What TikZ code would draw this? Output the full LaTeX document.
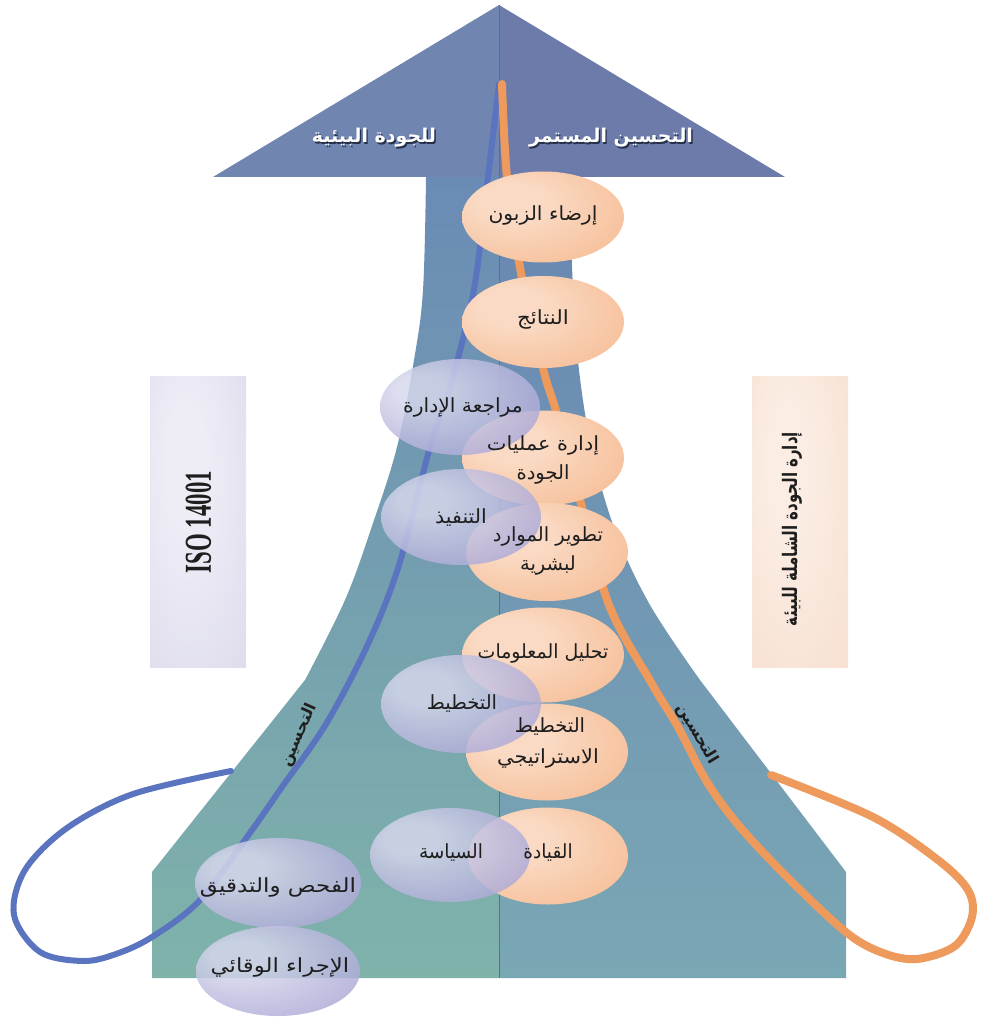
\documentclass[tikz,border=0pt]{standalone}
\usepackage{fontspec}
\setmainfont{Liberation Serif}
\newfontfamily\arabicfont[Script=Arabic]{DejaVu Sans}
\TeXXeTstate=1
\usetikzlibrary{shapes.geometric}
\definecolor{ocA}{HTML}{FADAC4}
\definecolor{ocB}{HTML}{F6BC94}
\definecolor{ocC}{HTML}{EF965A}
\definecolor{pcA}{HTML}{D6D8EC}
\definecolor{pcB}{HTML}{A6A1D3}
\definecolor{pcC}{HTML}{7A70B9}
\definecolor{isoA}{HTML}{EEEDF6}
\definecolor{isoB}{HTML}{D4D2E7}
\definecolor{tqA}{HTML}{FBEDE4}
\definecolor{tqB}{HTML}{F5D8C6}
\definecolor{headL}{HTML}{7085B0}
\definecolor{headR}{HTML}{6D7BAA}
\definecolor{stemLT}{HTML}{6A8BB5}
\definecolor{stemLB}{HTML}{7FB3AA}
\definecolor{stemRT}{HTML}{6886B2}
\definecolor{stemRB}{HTML}{7AA7B4}
\definecolor{midline}{HTML}{5B6F92}
\definecolor{blueline}{HTML}{5B74C0}
\definecolor{orangeline}{HTML}{EE9A5C}
\definecolor{txt}{HTML}{1E1E1E}
\definecolor{shadowc}{HTML}{26304A}
\pgfdeclareradialshading{oball}{\pgfpoint{-12bp}{10bp}}{color(0bp)=(ocA); color(10bp)=(ocA); color(38bp)=(ocB); color(58bp)=(ocC)}
\pgfdeclareradialshading{pball}{\pgfpoint{-14bp}{10bp}}{color(0bp)=(pcA); color(8bp)=(pcA); color(38bp)=(pcB); color(58bp)=(pcC)}
\pgfdeclareradialshading{isoshade}{\pgfpoint{-8bp}{12bp}}{color(0bp)=(isoA); color(10bp)=(isoA); color(60bp)=(isoB)}
\pgfdeclareradialshading{tqmshade}{\pgfpoint{-8bp}{12bp}}{color(0bp)=(tqA); color(10bp)=(tqA); color(60bp)=(tqB)}
\begin{document}
\begin{tikzpicture}[x=1pt,y=-1pt,
  oell/.style={ellipse, inner sep=0pt, shade, shading=oball, minimum width=162pt, minimum height=95pt},
  pell/.style={ellipse, inner sep=0pt, shade, shading=pball, opacity=0.84, minimum width=160pt, minimum height=96pt},
  lbl/.style={inner sep=0pt, text=txt, font=\arabicfont\fontsize{19.5}{22}\selectfont},
  ttl/.style={inner sep=0pt, text=white, font=\arabicfont\bfseries\fontsize{19}{22}\selectfont},
  ttlsh/.style={inner sep=0pt, text=shadowc, font=\arabicfont\bfseries\fontsize{19}{22}\selectfont},
  sidelbl/.style={inner sep=0pt, text=txt, font=\arabicfont\bfseries\fontsize{16}{18}\selectfont},
  barbox/.style={inner sep=0pt, minimum width=96pt, minimum height=291pt, shade},
  bline/.style={blueline, line width=6pt, line cap=round},
  oline/.style={orangeline, line width=8pt, line cap=round}
]
\useasboundingbox (0,0) rectangle (980,1019);

\def\stempath{(426,177) -- (569,177) -- plot[smooth, tension=0.6] coordinates {(569,177) (573,289) (579,370) (592,450) (615,530) (650,605) (700,680)} -- (846,872) -- (846,978) -- (152,978) -- (152,872) -- plot[smooth, tension=0.6] coordinates {(305,680) (345,600) (372,526) (397,447) (414,360) (423,290) (426,177)} -- cycle}

% stem, left and right halves
\begin{scope}
  \clip (0,0) rectangle (499,1019);
  \shade[top color=stemLT, bottom color=stemLB] \stempath;
\end{scope}
\begin{scope}
  \clip (499,0) rectangle (980,1019);
  \shade[top color=stemRT, bottom color=stemRB] \stempath;
\end{scope}

% arrow head
\coordinate (tip) at (499,5);
\coordinate (hl) at (213,177);
\coordinate (hr) at (785,177);
\coordinate (hm) at (499,177);
\coordinate (bot) at (499,978);
\fill[headL] (hl) -- (tip) -- (hm) -- cycle;
\fill[headR] (tip) -- (hr) -- (hm) -- cycle;
\draw[midline, line width=0.8pt] (tip) -- (bot);

% titles
\node[ttlsh] (h1s) at (612.4,139.4) {\beginR التحسين المستمر\endR};
\node[ttl] (h1) at (611,138) {\beginR التحسين المستمر\endR};
\node[ttlsh] (h2s) at (375.4,139.4) {\beginR للجودة البيئية\endR};
\node[ttl] (h2) at (374,138) {\beginR للجودة البيئية\endR};

% side boxes
\node[barbox, shading=isoshade] (iso) at (198,521.5) {};
\node[rotate=90, inner sep=0pt, text=txt, font=\bfseries\fontsize{38}{40}\selectfont] (isot) at (198.5,522) {\scalebox{0.6}[1]{ISO 14001}};
\node[barbox, shading=tqmshade] (tqm) at (800,521.5) {};
\node[rotate=90, inner sep=0pt, text=txt, font=\arabicfont\bfseries\fontsize{20}{22}\selectfont] (tqmt) at (792,529) {\scalebox{0.75}[1]{\beginR إدارة الجودة الشاملة للبيئة\endR}};

% blue line with loop
\coordinate (bend) at (231,771);
\draw[bline] plot[smooth, tension=0.55] coordinates {(499,84) (488,177) (474,289) (452,380) (430,447) (399,565) (368,644) (326,724) (282,787) (252,830) (200,900) (152,937) (116,954) (83,961) (40,952) (14,915) (25,870) (67,828) (133,794) (231,771)};
% orange line with loop
\coordinate (oend) at (771,775);
\draw[oline] plot[smooth, tension=0.55] coordinates {(502,84) (507,177) (521,273) (544,372) (556,411) (580,500) (609,605) (652,684) (678,727) (707,782) (740,827) (790,880) (847,933) (883,953) (917,959) (955,946) (972,917) (968,890) (938,860) (873,817) (771,775)};

% side labels
\node[sidelbl, rotate=66] (impL) at (299,735) {\beginR التحسين\endR};
\node[sidelbl, rotate=-59] (impR) at (697,734) {\beginR التحسين\endR};

% orange ellipses
\node[oell, minimum height=91pt] (e1) at (543,217) {};
\node[oell, minimum height=92pt] (e2) at (543,322) {};
\node[oell] (e3) at (543,458) {};
\node[oell, minimum height=98pt] (e4) at (547,552) {};
\node[oell] (e5) at (543,655) {};
\node[oell, minimum height=97pt] (e6) at (547,752) {};
\node[oell, minimum height=97pt, minimum width=160pt] (e7) at (548,856) {};

% purple ellipses
\node[pell] (p1) at (460,407) {};
\node[pell] (p2) at (461,517) {};
\node[pell, minimum height=98pt] (p3) at (461,704) {};
\node[pell, minimum height=94pt] (p4) at (450,855) {};
\node[pell, minimum width=166pt, minimum height=90pt] (p5) at (278,883) {};
\node[pell, minimum width=164pt, minimum height=90pt] (p6) at (278,971) {};

% texts
\node[lbl] (t1) at (543,215) {\scalebox{1.04}[1]{\beginR إرضاء الزبون\endR}};
\node[lbl] (t2) at (543,319) {\scalebox{1.1}[1]{\beginR النتائج\endR}};
\node[lbl] (t3) at (463,407) {\scalebox{1.04}[1]{\beginR مراجعة الإدارة\endR}};
\node[lbl] (t4a) at (543,445) {\scalebox{1.07}[1]{\beginR إدارة عمليات\endR}};
\node[lbl] (t4b) at (543,474) {\beginR الجودة\endR};
\node[lbl] (t5) at (461,518) {\scalebox{1.05}[1]{\beginR التنفيذ\endR}};
\node[lbl] (t6a) at (548,536) {\beginR تطوير الموارد\endR};
\node[lbl] (t6b) at (548,565) {\beginR لبشرية\endR};
\node[lbl] (t7) at (543,653) {\scalebox{0.97}[1]{\beginR تحليل المعلومات\endR}};
\node[lbl] (t8) at (462,704) {\beginR التخطيط\endR};
\node[lbl] (t9a) at (550,727) {\beginR التخطيط\endR};
\node[lbl] (t9b) at (548,758) {\scalebox{1.07}[1]{\beginR الاستراتيجي\endR}};
\node[lbl] (t10) at (451,853) {\scalebox{0.95}[1]{\beginR السياسة\endR}};
\node[lbl] (t11) at (548,853) {\scalebox{0.95}[1]{\beginR القيادة\endR}};
\node[lbl] (t12) at (278,887) {\scalebox{1.18}[1]{\beginR الفحص والتدقيق\endR}};
\node[lbl] (t13) at (280,967) {\scalebox{1.17}[1]{\beginR الإجراء الوقائي\endR}};
\end{tikzpicture}
\end{document}
